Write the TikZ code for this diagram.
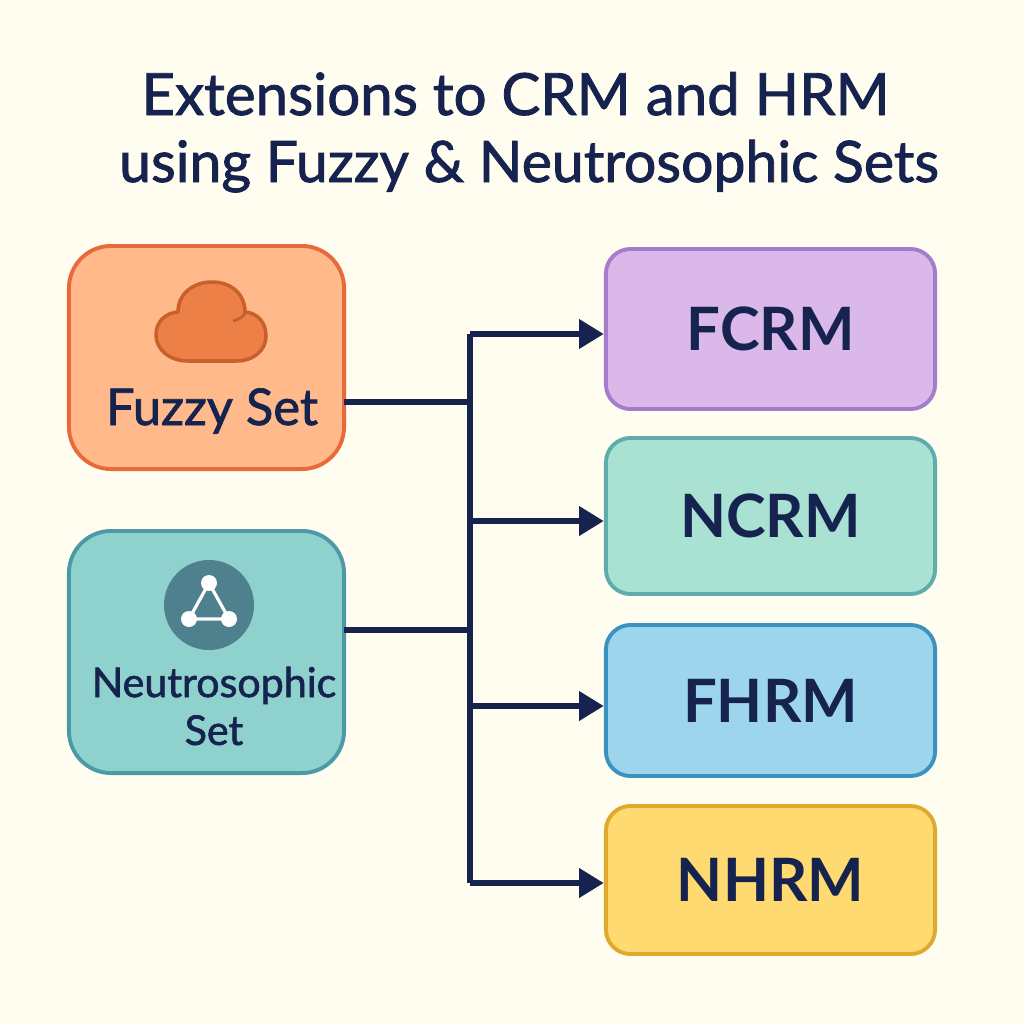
\documentclass[tikz,border=0pt]{standalone}
\usepackage{fontspec}
\setmainfont{Lato}
\newfontfamily\setfont{Lato}[FakeBold=1.5]
\usepackage{tikz}
\usetikzlibrary{arrows.meta}

\definecolor{paper}{HTML}{FFFCF0}
\definecolor{ink}{HTML}{16234F}
\definecolor{fuzzyfill}{HTML}{FFB98A}
\definecolor{fuzzyline}{HTML}{E8693A}
\definecolor{cloudfill}{HTML}{EC8047}
\definecolor{cloudline}{HTML}{C9602B}
\definecolor{neutrofill}{HTML}{8FD1CC}
\definecolor{neutroline}{HTML}{4C9AA5}
\definecolor{iconfill}{HTML}{4E808D}
\definecolor{fcrmfill}{HTML}{DAB8EA}
\definecolor{fcrmline}{HTML}{A57BCB}
\definecolor{ncrmfill}{HTML}{A9E2D3}
\definecolor{ncrmline}{HTML}{5FADAA}
\definecolor{fhrmfill}{HTML}{9DD5EC}
\definecolor{fhrmline}{HTML}{3A93BF}
\definecolor{nhrmfill}{HTML}{FFDA70}
\definecolor{nhrmline}{HTML}{DDAA2E}

\tikzset{
  setbox/.style={line width=1.1pt, rounded corners=12pt, minimum width=2.75cm, outer sep=0pt},
  modelbox/.style={line width=1.1pt, rounded corners=7pt, minimum width=3.29cm, outer sep=0pt,
    text=ink, font=\fontsize{17}{20}\bfseries},
  titletext/.style={text=ink, anchor=base},
  settext/.style={text=ink, align=center},
  bus/.style={draw=ink, line width=1.8pt},
  feed/.style={bus, -{Triangle[length=7pt,width=8pt]}, shorten >=0.6pt}
}

\begin{document}
\begin{tikzpicture}[x=0.01cm, y=-0.01cm]
\fill[paper] (0,0) rectangle (1024,1024);
\useasboundingbox (0,0) rectangle (1024,1024);

\node[titletext, font=\fontsize{16.55}{19}\setfont] (titleone) at (515.5,115) {Extensions to CRM and HRM};
\node[titletext, font=\fontsize{16.25}{19}\setfont] (titletwo) at (529,182) {using Fuzzy \& Neutrosophic Sets};

\node[setbox, draw=fuzzyline, fill=fuzzyfill, minimum height=2.23cm] (fuzzy) at (206.5,357.5) {};
\node[setbox, draw=neutroline, fill=neutrofill, minimum height=2.42cm] (neutro) at (206.5,652) {};

\node[modelbox, draw=fcrmline, fill=fcrmfill, minimum height=1.60cm] (fcrm) at (770.5,329) {FCRM};
\node[modelbox, draw=ncrmline, fill=ncrmfill, minimum height=1.56cm] (ncrm) at (770.5,516) {NCRM};
\node[modelbox, draw=fhrmline, fill=fhrmfill, minimum height=1.51cm] (fhrm) at (770.5,700.5) {FHRM};
\node[modelbox, draw=nhrmline, fill=nhrmfill, minimum height=1.48cm] (nhrm) at (770.5,880) {NHRM};

% cloud
\draw[draw=cloudline, fill=cloudfill, line width=1pt, line join=round]
  (188,361) .. controls (169,361) and (156,349) .. (156,335)
  .. controls (156,322) and (165,313) .. (178,312)
  .. controls (178,294) and (193,282) .. (212,282)
  .. controls (231,282) and (245,294) .. (245,312)
  .. controls (258,313) and (266,323) .. (266,336)
  .. controls (266,350) and (254,361) .. (236,361) -- cycle;
\draw[cloudline, line width=0.8pt] (245,312) .. controls (245,316) and (240,319) .. (233,321);

% graph icon
\fill[iconfill] (209,605) circle (45);
\draw[white, line width=0.9pt] (209,583) -- (189,619) -- (229,619) -- cycle;
\fill[white] (209,583) circle (8) (189,619) circle (8) (229,619) circle (8);

\node[settext, anchor=base, font=\fontsize{14.4}{17}\setfont] (fuzzytext) at (212,425) {Fuzzy Set};
\node[settext, font=\fontsize{11.7}{13.6}\setfont] (neutrotext) at (214,706) {Neutrosophic\\Set};

\coordinate (fuzzyjoin) at (470,402);
\coordinate (neutrojoin) at (470,630);
\coordinate (fcrmjoin) at (470,334);
\coordinate (ncrmjoin) at (470,521);
\coordinate (fhrmjoin) at (470,706);
\coordinate (nhrmjoin) at (470,883);

\draw[bus] (fuzzy.east |- fuzzyjoin) -- (fuzzyjoin);
\draw[bus] (neutro.east |- neutrojoin) -- (neutrojoin);
\draw[bus, line join=round] (fcrmjoin) -- (nhrmjoin);
\draw[feed] (fcrmjoin) -- (fcrm.west |- fcrmjoin);
\draw[feed] (ncrmjoin) -- (ncrm.west |- ncrmjoin);
\draw[feed] (fhrmjoin) -- (fhrm.west |- fhrmjoin);
\draw[feed] (nhrmjoin) -- (nhrm.west |- nhrmjoin);

\end{tikzpicture}
\end{document}
